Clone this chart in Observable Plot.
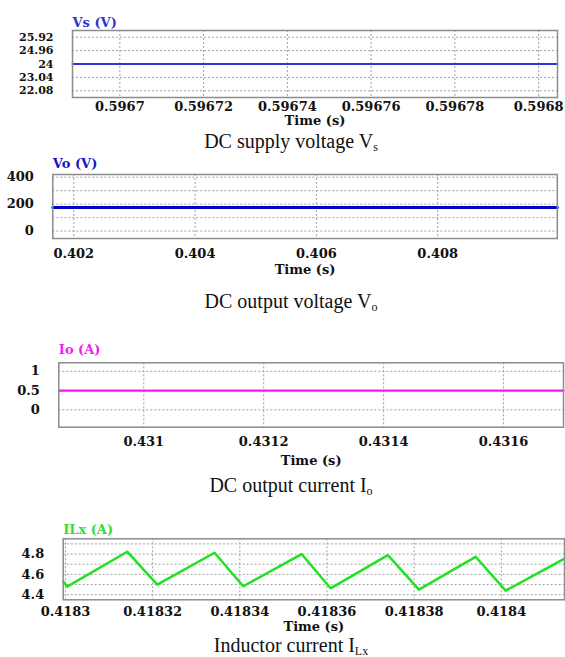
<!DOCTYPE html>
<html>
<head>
<meta charset="utf-8">
<script src="https://cdn.jsdelivr.net/npm/d3@7"></script>
<script src="https://cdn.jsdelivr.net/npm/@observablehq/plot@0.6"></script>
<style>
  html, body { margin: 0; padding: 0; background: #fff; }
  #page { position: relative; width: 565px; height: 657px; overflow: hidden; }
  .panel { position: absolute; left: 0; }
  .caption { position: absolute; left: 0; width: 582px; text-align: center;
    font-family: "Liberation Serif", "Times New Roman", serif; font-size: 20px; line-height: 22px; color: #111; }
  .caption .sub { font-size: 12px; position: relative; top: 3px; }
</style>
</head>
<body>
<div id="page"></div>
<script>
// ---------- data ----------
// Panel 1: DC supply voltage Vs
const vsXTicks = [0.5967, 0.59672, 0.59674, 0.59676, 0.59678, 0.5968];
const vsXLabels = ["0.5967", "0.59672", "0.59674", "0.59676", "0.59678", "0.5968"];
const vsYTicks = [22.08, 23.04, 24, 24.96, 25.92];
const vsYLabels = ["22.08", "23.04", "24", "24.96", "25.92"];
const vsTime = [0.5966887, 0.5968045];
const vsValue = [24, 24];

// Panel 2: DC output voltage Vo
const voXTicks = [0.402, 0.404, 0.406, 0.408];
const voXLabels = ["0.402", "0.404", "0.406", "0.408"];
const voYTicks = [0, 200, 400];
const voYLabels = ["0", "200", "400"];
const voYGrid = [0, 100, 200, 300, 400];
const voTime = [0.401654, 0.409972];
const voValue = [175, 175];

// Panel 3: DC output current Io
const ioXTicks = [0.431, 0.4312, 0.4314, 0.4316];
const ioXLabels = ["0.431", "0.4312", "0.4314", "0.4316"];
const ioYTicks = [0, 0.5, 1];
const ioYLabels = ["0", "0.5", "1"];
const ioTime = [0.4308583, 0.4317];
const ioValue = [0.5, 0.5];

// Panel 4: Inductor current ILx
const ilXTicks = [0.4183, 0.41832, 0.41834, 0.41836, 0.41838, 0.4184];
const ilXLabels = ["0.4183", "0.41832", "0.41834", "0.41836", "0.41838", "0.4184"];
const ilYTicks = [4.4, 4.6, 4.8];
const ilYLabels = ["4.4", "4.6", "4.8"];
const ilYGrid = [4.4, 4.5, 4.6, 4.7, 4.8, 4.9];
const ilTime = [0.41829947, 0.41830039, 0.41831416, 0.41832105, 0.41833420, 0.41834078,
                0.41835417, 0.41836082, 0.41837397, 0.41838109, 0.41839410, 0.41840099, 0.41841430];
const ilValue = [4.53, 4.48, 4.823, 4.50, 4.813, 4.483, 4.80, 4.463, 4.79, 4.45, 4.773, 4.44, 4.75];

// ---------- drawing ----------
const FONT = "DejaVu Serif";
const page = document.getElementById("page");

function panel(cfg) {
  const pts = cfg.time.map((t, i) => ({t, v: cfg.value[i]}));
  const txt = {fontFamily: FONT, fontWeight: "bold", fontSize: 13, fill: "#111"};
  const grid = {stroke: "#a0a0a0", strokeOpacity: 1, strokeWidth: 1, strokeDasharray: "2,2"};
  const chart = Plot.plot({
    width: 565,
    height: cfg.height,
    marginLeft: cfg.left,
    marginRight: 565 - cfg.right,
    marginTop: cfg.top,
    marginBottom: cfg.height - cfg.bottom,
    style: {fontFamily: FONT, background: "transparent", overflow: "visible"},
    x: {domain: cfg.xDomain, axis: null},
    y: {domain: cfg.yDomain, axis: null},
    marks: [
      Plot.gridX(cfg.xTicks, grid),
      Plot.gridY(cfg.yGrid, grid),
      Plot.line(pts, {x: "t", y: "v", stroke: cfg.color, strokeWidth: cfg.lineWidth}),
      Plot.frame({stroke: "#8c8c8c", strokeWidth: 1.5}),
      Plot.text(cfg.xTicks, {x: d => d, text: (d, i) => cfg.xLabels[i], frameAnchor: "bottom", dy: cfg.xLabelDy, ...txt}),
      Plot.text(cfg.yTicks, {y: d => d, text: (d, i) => cfg.yLabels[i], frameAnchor: "left", dx: -19, textAnchor: "end", ...txt, fontSize: cfg.yFontSize || 13}),
      Plot.text([cfg.title], {text: d => d, frameAnchor: "top-left", textAnchor: "start", dy: cfg.titleDy, ...txt, fill: cfg.titleColor}),
      Plot.text(["Time (s)"], {text: d => d, frameAnchor: "bottom", dy: cfg.timeDy, ...txt})
    ]
  });
  const div = document.createElement("div");
  div.className = "panel";
  div.style.top = cfg.offset + "px";
  div.appendChild(chart);
  page.appendChild(div);
}

function caption(html, centerY) {
  const d = document.createElement("div");
  d.className = "caption";
  d.style.top = (centerY - 11) + "px";
  d.innerHTML = html;
  page.appendChild(d);
}

panel({offset: 0, height: 135, left: 72, right: 557, top: 30, bottom: 97,
  xDomain: [0.5966887, 0.5968045], yDomain: [21.6, 26.4],
  xTicks: vsXTicks, xLabels: vsXLabels, yTicks: vsYTicks, yLabels: vsYLabels, yGrid: vsYTicks,
  time: vsTime, value: vsValue, color: "#3434dc", lineWidth: 2, yFontSize: 11,
  title: "Vs (V)", titleColor: "#3333cc", titleDy: -13, xLabelDy: 13, timeDy: 27});

panel({offset: 145, height: 140, left: 52.3, right: 556.8, top: 29, bottom: 93,
  xDomain: [0.401654, 0.409972], yDomain: [-55, 420],
  xTicks: voXTicks, xLabels: voXLabels, yTicks: voYTicks, yLabels: voYLabels, yGrid: voYGrid,
  time: voTime, value: voValue, color: "#0000c8", lineWidth: 3,
  title: "Vo (V)", titleColor: "#1515cc", titleDy: -16, xLabelDy: 19, timeDy: 35});

panel({offset: 330, height: 145, left: 58.3, right: 563, top: 32.3, bottom: 96.7,
  xDomain: [0.4308583, 0.4317], yDomain: [-0.45, 1.22],
  xTicks: ioXTicks, xLabels: ioXLabels, yTicks: ioYTicks, yLabels: ioYLabels, yGrid: ioYTicks,
  time: ioTime, value: ioValue, color: "#ff10ff", lineWidth: 2.2,
  title: "Io (A)", titleColor: "#ee22ee", titleDy: -18, xLabelDy: 19, timeDy: 38});

panel({offset: 505, height: 135, left: 62.7, right: 564, top: 33.3, bottom: 94.3,
  xDomain: [0.41829947, 0.4184145], yDomain: [4.35, 4.95],
  xTicks: ilXTicks, xLabels: ilXLabels, yTicks: ilYTicks, yLabels: ilYLabels, yGrid: ilYGrid,
  time: ilTime, value: ilValue, color: "#22e022", lineWidth: 2.5,
  title: "ILx (A)", titleColor: "#33dd33", titleDy: -14, xLabelDy: 16, timeDy: 31});

caption('DC supply voltage V<span class="sub">s</span>', 141);
caption('DC output voltage V<span class="sub">o</span>', 301);
caption('DC output current I<span class="sub">o</span>', 485);
caption('Inductor current I<span class="sub">Lx</span>', 645);
</script>
</body>
</html>
